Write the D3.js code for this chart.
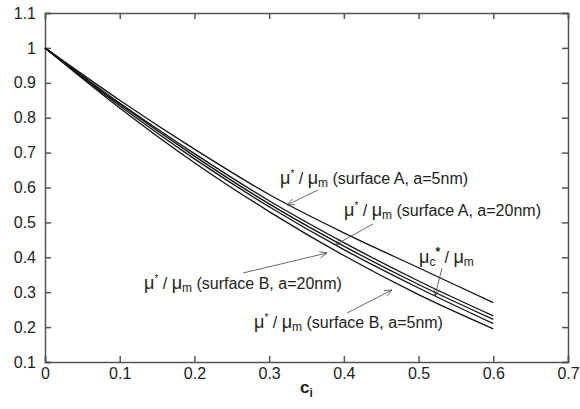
<!DOCTYPE html>
<html lang="en">
<head>
<meta charset="UTF-8">
<title>mobility ratio</title>
<script src="https://cdn.jsdelivr.net/npm/d3@7"></script>
<style>
  body { margin: 0; background: #fff; font-family: 'Liberation Sans', Arial, sans-serif; }
</style>
</head>
<body>
<div id="chart"></div>
<script>
var w = 580, h = 409;
var margin = {left: 45, right: 12, top: 13, bottom: 47};

// data
var ci = [0, 0.1, 0.2, 0.3, 0.4, 0.5, 0.6];
var surfA5 = [1, 0.85, 0.71, 0.58, 0.47, 0.37, 0.27];
var surfA20 = [1, 0.842, 0.697, 0.562, 0.442, 0.332, 0.232];
var muC = [1, 0.839, 0.69, 0.553, 0.432, 0.322, 0.222];
var surfB20 = [1, 0.834, 0.682, 0.545, 0.422, 0.312, 0.21];
var surfB5 = [1, 0.828, 0.671, 0.531, 0.405, 0.293, 0.195];
var xTicks = [0, 0.1, 0.2, 0.3, 0.4, 0.5, 0.6, 0.7];
var yTicks = [0.1, 0.2, 0.3, 0.4, 0.5, 0.6, 0.7, 0.8, 0.9, 1, 1.1];

var svg = d3.select("#chart").append("svg")
  .attr("width", w).attr("height", h);

var x = d3.scaleLinear().domain([0, 0.7]).range([margin.left, w - margin.right]);
var y = d3.scaleLinear().domain([0.1, 1.1]).range([h - margin.bottom, margin.top]);

var axisCol = "#555";
var fmt = function(d) { return d3.format("~g")(d); };

// axes: bottom, left, top, right with inward ticks
svg.append("g").attr("transform", "translate(0," + y(0.1) + ")")
  .call(d3.axisBottom(x).tickValues(xTicks).tickFormat(fmt).tickSize(-6).tickPadding(6));
svg.append("g").attr("transform", "translate(" + x(0) + ",0)")
  .call(d3.axisLeft(y).tickValues(yTicks).tickFormat(fmt).tickSize(-6).tickPadding(9));
svg.append("g").attr("transform", "translate(0," + y(1.1) + ")")
  .call(d3.axisTop(x).tickValues(xTicks).tickFormat("").tickSize(-6));
svg.append("g").attr("transform", "translate(" + x(0.7) + ",0)")
  .call(d3.axisRight(y).tickValues(yTicks).tickFormat("").tickSize(-6));

svg.selectAll(".domain").attr("stroke", axisCol).attr("stroke-width", 1.5);
svg.selectAll(".tick line").attr("stroke", axisCol).attr("stroke-width", 1.5);
svg.selectAll(".tick text").attr("fill", "#222").style("font-size", "16px")
  .style("font-family", "'Liberation Sans', Arial, sans-serif");

// curves
var line = d3.line()
  .x(function(d, i) { return x(ci[i]); })
  .y(function(d) { return y(d); })
  .curve(d3.curveMonotoneX);

[surfA5, surfA20, muC, surfB20, surfB5].forEach(function(s) {
  svg.append("path").attr("d", line(s))
    .attr("fill", "none").attr("stroke", "#111").attr("stroke-width", 1.3);
});

// x label
var xl = svg.append("text").attr("x", x(0.35)).attr("y", 393)
  .attr("text-anchor", "middle").style("font-size", "17px").style("font-weight", "bold")
  .attr("fill", "#222");
xl.append("tspan").text("c");
xl.append("tspan").attr("dy", 4).style("font-size", "12px").text("i");

// annotation labels
function label(px, py, sup, rest) {
  var t = svg.append("text").attr("x", px).attr("y", py)
    .style("font-size", "16px").attr("fill", "#222");
  t.append("tspan").style("font-size", "18px").text("\u03bc");
  if (sup === "c") {
    t.append("tspan").attr("dy", 3).style("font-size", "12px").text("c");
    t.append("tspan").attr("dy", -10).style("font-size", "12px").style("font-weight", "bold").text("*");
    t.append("tspan").attr("dy", 7).text(" / ");
  } else {
    t.append("tspan").attr("dy", -7).style("font-size", "10px").text("*");
    t.append("tspan").attr("dy", 7).text(" / ");
  }
  t.append("tspan").style("font-size", "18px").text("\u03bc");
  t.append("tspan").attr("dy", 3).style("font-size", "12px").text("m");
  t.append("tspan").attr("dy", -3).text(rest);
}

function arrow(x1, y1, x2, y2) {
  svg.append("line").attr("x1", x1).attr("y1", y1).attr("x2", x2).attr("y2", y2)
    .attr("stroke", "#444").attr("stroke-width", 0.8);
  var a = Math.atan2(y2 - y1, x2 - x1), L = 8, s = 0.4;
  svg.append("path")
    .attr("d", "M" + (x2 - L * Math.cos(a - s)) + "," + (y2 - L * Math.sin(a - s)) +
      "L" + x2 + "," + y2 +
      "L" + (x2 - L * Math.cos(a + s)) + "," + (y2 - L * Math.sin(a + s)))
    .attr("fill", "none").attr("stroke", "#444").attr("stroke-width", 0.8);
}

label(280, 184, "*", " (surface A, a=5nm)");
arrow(318, 190, 287, 205);
label(344, 216, "*", " (surface A, a=20nm)");
arrow(373, 224, 335, 245);
label(419, 263, "c", "");
arrow(442, 268, 435, 296);
label(144, 289, "*", " (surface B, a=20nm)");
arrow(243, 273, 327, 253);
label(254, 328, "*", " (surface B, a=5nm)");
arrow(347, 313, 392, 290);
</script>
</body>
</html>
